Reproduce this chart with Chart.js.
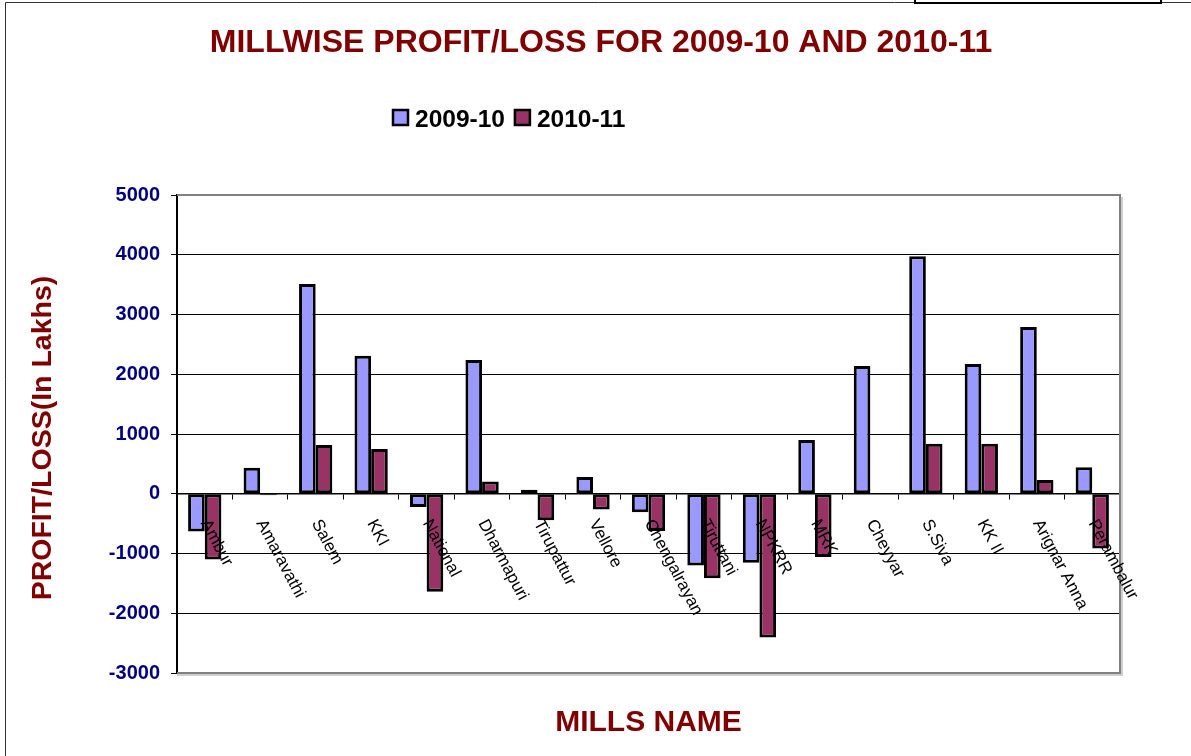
<!DOCTYPE html>
<html>
<head>
<meta charset="utf-8">
<title>Millwise Profit/Loss</title>
<script src="https://cdn.jsdelivr.net/npm/chart.js@4.4.1/dist/chart.umd.min.js"></script>
<style>
    body { margin: 0; background: #fff; }
    #wrap { width: 1191px; height: 756px; }
</style>
</head>
<body>
<div id="wrap"><canvas id="millChart" width="1191" height="756"></canvas></div>
<script>
// data (Rs. in lakhs)
const mills = ['Ambur', 'Amaravathi', 'Salem', 'KKI', 'National', 'Dharmapuri', 'Tirupattur',
    'Vellore', 'Chengalrayan', 'Tiruttani', 'NPKRR', 'MRK', 'Cheyyar', 'S.Siva', 'KK II',
    'Arignar Anna', 'Perambalur'];
const profit0910 = [-630, 435, 3510, 2310, -220, 2240, 65, 280, -310, -1200, -1155, 900, 2140, 3975, 2170, 2790, 445];
const profit1011 = [-1100, -25, 815, 750, -1640, 205, -445, -265, -625, -1415, -2405, -1060, 10, 835, 835, 230, -915];
const seriesNames = ['2009-10', '2010-11'];
const yTicks = [5000, 4000, 3000, 2000, 1000, 0, -1000, -2000, -3000];

const FONT = '"Liberation Sans", Arial, sans-serif';
const DARK_RED = '#800000';

// page frame, titles and legend
const framePlugin = {
    id: 'frame',
    beforeDraw(chart) {
        const ctx = chart.ctx;
        ctx.save();
        ctx.fillStyle = '#fff';
        ctx.fillRect(0, 0, chart.width, chart.height);
        ctx.strokeStyle = '#333';
        ctx.lineWidth = 1;
        ctx.beginPath();
        ctx.moveTo(5.5, 756);
        ctx.lineTo(5.5, 2.5);
        ctx.lineTo(1191, 2.5);
        ctx.stroke();
        ctx.lineWidth = 2;
        ctx.strokeStyle = '#000';
        ctx.strokeRect(915, -2, 246, 5);
        ctx.restore();
    },
    afterDraw(chart) {
        const ctx = chart.ctx;
        ctx.save();
        ctx.fillStyle = DARK_RED;
        ctx.textAlign = 'center';
        ctx.textBaseline = 'alphabetic';
        ctx.font = 'bold 32px ' + FONT;
        ctx.fillText('MILLWISE PROFIT/LOSS FOR 2009-10 AND 2010-11', 601, 52);

        ctx.font = 'bold 30px ' + FONT;
        const a = chart.chartArea;
        ctx.fillText('MILLS NAME', (a.left + a.right) / 2, 731);

        ctx.save();
        ctx.translate(51, 438);
        ctx.rotate(-Math.PI / 2);
        ctx.font = 'bold 28.5px ' + FONT;
        ctx.fillText('PROFIT/LOSS(In Lakhs)', 0, 0);
        ctx.restore();

        // legend
        ctx.font = 'bold 24.5px ' + FONT;
        ctx.textAlign = 'left';
        let lx = 393;
        chart.data.datasets.forEach(ds => {
            ctx.fillStyle = ds.backgroundColor;
            ctx.fillRect(lx, 110, 15, 15);
            ctx.lineWidth = 2.5;
            ctx.strokeStyle = '#000';
            ctx.strokeRect(lx, 110, 15, 15);
            ctx.fillStyle = '#000';
            ctx.fillText(ds.label, lx + 22, 126.5);
            lx += 22 + ctx.measureText(ds.label).width + 10;
        });
        ctx.restore();
    }
};

// plot box border plus rotated mill names hanging off the zero line
const plotPlugin = {
    id: 'plotBox',
    beforeDatasetsDraw(chart) {
        const ctx = chart.ctx;
        const a = chart.chartArea;
        ctx.save();
        ctx.strokeStyle = '#cfcfcf';
        ctx.lineWidth = 2;
        ctx.beginPath();
        ctx.moveTo(a.right + 2, a.top + 2);
        ctx.lineTo(a.right + 2, a.bottom + 2);
        ctx.lineTo(a.left, a.bottom + 2);
        ctx.stroke();
        ctx.strokeStyle = '#808080';
        ctx.beginPath();
        ctx.moveTo(a.left, a.top);
        ctx.lineTo(a.right, a.top);
        ctx.lineTo(a.right, a.bottom);
        ctx.lineTo(a.left, a.bottom);
        ctx.stroke();
        ctx.restore();
    },
    afterDatasetsDraw(chart) {
        const ctx = chart.ctx;
        const xs = chart.scales.x;
        const y0 = chart.scales.y.getPixelForValue(0);
        ctx.save();
        ctx.font = '17px ' + FONT;
        ctx.fillStyle = '#000';
        ctx.textAlign = 'left';
        ctx.textBaseline = 'middle';
        mills.forEach((name, i) => {
            ctx.save();
            ctx.translate(xs.getPixelForValue(i), y0 + 27);
            ctx.rotate(62 * Math.PI / 180);
            ctx.fillText(name, 0, 0);
            ctx.restore();
        });
        ctx.restore();
    }
};

const ctx = document.getElementById('millChart').getContext('2d');
const millChart = new Chart(ctx, {
    type: 'bar',
    data: {
        labels: mills,
        datasets: [{
            label: seriesNames[0],
            data: profit0910,
            backgroundColor: '#9999FF',
            borderColor: '#000',
            borderWidth: 3,
            borderSkipped: false
        }, {
            label: seriesNames[1],
            data: profit1011,
            backgroundColor: '#993366',
            borderColor: '#000',
            borderWidth: 3,
            borderSkipped: false
        }]
    },
    options: {
        responsive: false,
        animation: false,
        devicePixelRatio: 1,
        layout: {
            padding: { left: 0, top: 195, right: 71, bottom: 83 }
        },
        datasets: {
            bar: {
                categoryPercentage: 0.6,
                barPercentage: 1.0
            }
        },
        plugins: {
            legend: { display: false },
            title: { display: false },
            tooltip: { enabled: false }
        },
        scales: {
            x: {
                type: 'category',
                position: { y: 0 },
                grid: {
                    offset: true,
                    drawOnChartArea: false,
                    drawTicks: true,
                    tickLength: 5,
                    color: '#000',
                    tickColor: '#000'
                },
                border: { display: true, color: '#000', width: 1.5 },
                ticks: { display: false }
            },
            y: {
                min: yTicks[yTicks.length - 1],
                max: yTicks[0],
                afterFit: function (scale) {
                    scale.width = 177;
                },
                afterBuildTicks: function (scale) {
                    scale.ticks = yTicks.slice().reverse().map(v => ({ value: v }));
                },
                grid: {
                    color: function (c) {
                        const v = c.tick && c.tick.value;
                        return (v === yTicks[0] || v === yTicks[yTicks.length - 1]) ? 'rgba(0,0,0,0)' : '#000';
                    },
                    tickColor: '#000',
                    tickLength: 6,
                    lineWidth: 1
                },
                border: { display: true, color: '#000', width: 2 },
                ticks: {
                    color: '#000080',
                    padding: 11,
                    font: { family: FONT, size: 20, weight: 'bold' },
                    callback: function (value) {
                        return String(value);
                    }
                }
            }
        }
    },
    plugins: [framePlugin, plotPlugin]
});
</script>
</body>
</html>
